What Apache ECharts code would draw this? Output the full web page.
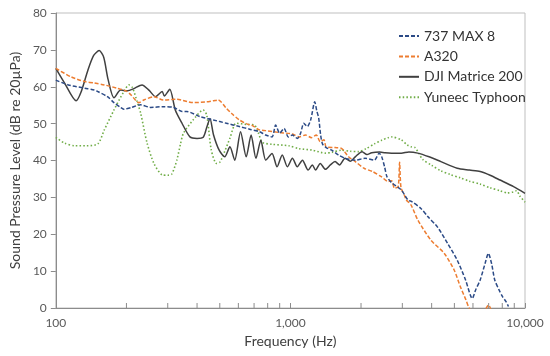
<!DOCTYPE html>
<html>
<head>
<meta charset="utf-8">
<script src="https://cdn.jsdelivr.net/npm/echarts@6/dist/echarts.min.js"></script>
<style>html,body{margin:0;padding:0;background:#fff}#c{width:550px;height:356px}</style>
</head>
<body>
<div id="c"></div>
<script>
// ---- data ----
const seriesNames = ['737 MAX 8', 'A320', 'DJI Matrice 200', 'Yuneec Typhoon'];

const maxFreq = [100,113,133,146,151,166,177,188,195,210,230,253,288,318,345,361,412,469,533,606,670,738,785,835,865,900,940,980,1020,1070,1105,1140,1180,1220,1270,1295,1320,1345,1370,1420,1500,1600,1710,1890,2080,2280,2390,2450,2520,2580,2700,2970,3170,3300,3600,3850,4230,4680,5140,5580,5960,6160,6440,6760,6980,7200,7430,7750,8020,8300,8500];
const maxSpl  = [61.8,60.5,59.6,59.1,58.7,57.3,55.7,54.5,53.9,54.4,55.1,54.4,54.6,54.4,53.3,53.3,51.9,51.0,50.1,49.2,48.5,47.8,46.9,46.4,49.6,47.4,48.7,46.4,46.9,46.0,47.4,50.1,49.2,51.0,55.9,53.5,51.5,47.0,44.5,43.5,42.8,41.5,40.6,40.1,40.6,40.1,42.0,41.0,38.3,35.6,34.0,32.0,29.3,28.8,27.0,24.8,22.0,17.5,13.0,7.6,2.6,4.9,7.6,12.1,14.8,12.1,7.6,4.9,3.1,1.7,0.4];

const a320Freq = [100,116,133,146,161,183,200,209,226,237,262,288,328,385,439,470,492,533,560,606,648,692,738,785,893,1020,1090,1160,1230,1290,1340,1390,1420,1550,1650,1770,1890,2060,2240,2440,2610,2700,2780,2880,2920,2960,3060,3120,3270,3490,3970,4530,4990,5300,5600,5780,6000,6500,7000,7200];
const a320Spl  = [65.0,62.7,61.4,61.0,60.5,59.6,58.8,57.8,55.7,56.4,57.3,56.4,56.6,55.7,55.9,56.2,56.4,54.2,52.8,51.0,50.0,49.4,48.3,48.1,47.6,47.2,46.4,46.9,46.2,46.9,45.1,45.6,43.7,43.5,43.3,41.0,39.7,37.9,37.0,35.6,34.3,34.5,32.5,32.9,39.5,32.7,30.6,29.3,27.9,23.9,18.4,14.8,10.3,5.8,2.2,0.0,-1.5,-2.0,0.8,-1.0];

const djiFreq = [100,109,122,128,137,145,153,160,167,177,189,202,215,233,250,266,284,290,306,323,345,373,400,425,440,454,470,497,525,552,579,613,648,680,713,748,785,835,877,923,971,1020,1070,1125,1190,1240,1280,1340,1410,1480,1550,1620,1710,1800,1890,2020,2120,2220,2400,2530,2700,2970,3200,3490,3900,4380,5140,5800,6440,7100,7830,8940,10000];
const djiSpl  = [65.0,61.0,56.2,58.5,64.5,68.5,69.8,68.0,62.0,57.0,59.1,58.9,59.5,60.5,59.0,57.3,58.7,57.5,59.3,53.7,50.1,46.4,46.0,46.3,49.0,51.4,47.0,42.8,41.0,43.7,40.1,47.8,41.0,46.9,40.6,45.5,40.1,41.9,38.3,41.5,38.3,40.6,38.3,40.1,37.4,38.8,37.4,39.2,37.6,38.8,39.7,38.8,40.6,39.8,41.0,42.4,41.6,42.1,42.3,42.1,42.0,42.0,42.3,42.0,41.0,39.7,37.9,37.4,37.0,36.0,34.7,32.9,31.1];

const yunFreq = [100,109,120,135,151,161,177,195,205,212,222,230,245,262,284,300,312,328,340,350,385,425,440,460,484,500,525,552,587,648,703,730,760,835,985,1090,1240,1410,1500,1650,1800,1950,2100,2280,2450,2610,2700,2970,3150,3270,3400,3520,3660,4000,4380,4800,5300,5800,6440,7100,7830,8400,8940,9200,9500,10000];
const yunSpl  = [46.3,44.7,44.0,44.0,44.5,48.3,53.7,58.7,60.5,59.8,56.0,52.8,44.7,39.2,36.1,36.0,36.3,40.1,44.5,47.4,51.0,53.7,52.3,42.8,39.2,39.5,42.5,46.0,50.1,49.8,49.6,47.5,44.9,44.4,44.0,43.2,42.8,42.0,42.2,42.8,42.5,42.4,43.2,44.5,45.5,46.2,46.4,45.6,44.2,43.7,43.5,42.0,40.3,38.7,37.2,36.2,35.3,34.4,33.6,32.6,31.8,31.2,31.5,31.8,30.4,28.7];

const xTickLabels = ['100', '1,000', '10,000'];
const minorTicks = [200,300,400,500,600,700,800,900,2000,3000,4000,5000,6000,7000,8000,9000];

// ---- chart ----
const FONT = 'Lato, "Open Sans", sans-serif';
const zip = (f, v) => f.map((x, i) => [x, v[i]]);
const chart = echarts.init(document.getElementById('c'), null, {renderer: 'canvas'});

const styles = [
  {color: '#2b4a86', type: [4, 2], width: 1.5},
  {color: '#ed7d31', type: [4, 2], width: 1.5},
  {color: '#404040', type: 'solid', width: 1.5},
  {color: '#70ad47', type: [1.5, 2.2], width: 1.6}
];
const dataSets = [zip(maxFreq, maxSpl), zip(a320Freq, a320Spl), zip(djiFreq, djiSpl), zip(yunFreq, yunSpl)];

const lineSeries = seriesNames.map((n, i) => ({
  name: n,
  type: 'line',
  data: dataSets[i],
  symbol: 'none',
  smooth: 0.25,
  clip: true,
  lineStyle: styles[i],
  itemStyle: {color: styles[i].color},
  z: 10 - i
}));

chart.setOption({
  animation: false,
  backgroundColor: '#fff',
  textStyle: {fontFamily: FONT},
  grid: {left: 51, right: 25, top: 13, bottom: 48, show: true, borderColor: '#bfbfbf', borderWidth: 1},
  legend: {
    data: seriesNames,
    orient: 'vertical',
    left: 398,
    top: 29,
    padding: 0,
    itemWidth: 20,
    itemHeight: 14,
    itemGap: 6.4,
    itemStyle: {opacity: 0},
    textStyle: {fontFamily: FONT, fontSize: 14, color: '#333'}
  },
  xAxis: {
    type: 'log',
    logBase: 10,
    min: 100,
    max: 10000,
    name: 'Frequency (Hz)',
    nameLocation: 'middle',
    nameGap: 26,
    nameTextStyle: {fontFamily: FONT, fontSize: 14, color: '#404040'},
    axisLine: {lineStyle: {color: '#8c8c8c', width: 1}},
    axisTick: {inside: true, length: 5, lineStyle: {color: '#8c8c8c'}},
    axisLabel: {
      fontFamily: FONT, fontSize: 12, color: '#595959', margin: 9,
      formatter: v => { const k = Math.round(Math.log10(v)) - 2; return xTickLabels[k] !== undefined ? xTickLabels[k] : ''; }
    },
    splitLine: {show: false}
  },
  yAxis: {
    type: 'value',
    min: 0,
    max: 80,
    interval: 10,
    name: 'Sound Pressure Level (dB re 20µPa)',
    nameLocation: 'middle',
    nameGap: 33,
    nameTextStyle: {fontFamily: FONT, fontSize: 14, color: '#404040'},
    axisLine: {show: true, lineStyle: {color: '#8c8c8c', width: 1}},
    axisTick: {show: true, inside: false, length: 5, lineStyle: {color: '#8c8c8c'}},
    axisLabel: {fontFamily: FONT, fontSize: 12, color: '#595959', margin: 9},
    splitLine: {show: false}
  },
  series: lineSeries.concat([{
    type: 'custom',
    name: 'minorTicks',
    silent: true,
    data: minorTicks.map(f => [f, 0]),
    renderItem: (params, api) => {
      const p = api.coord([api.value(0), 0]);
      return {type: 'line', shape: {x1: p[0], y1: p[1], x2: p[0], y2: p[1] - 5}, style: {stroke: '#8c8c8c', lineWidth: 1}};
    },
    z: 20
  }])
});
</script>
</body>
</html>
